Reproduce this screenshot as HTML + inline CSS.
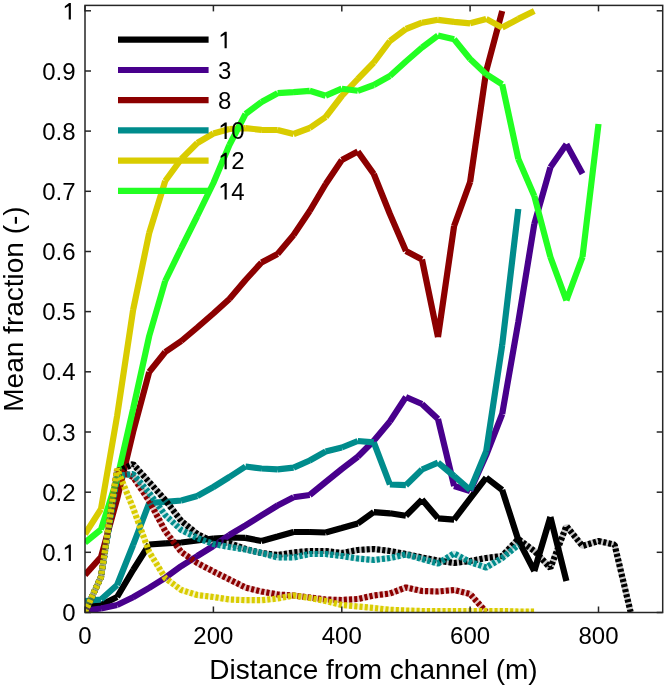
<!DOCTYPE html>
<html><head><meta charset="utf-8"><style>
html,body{margin:0;padding:0;background:#fff;}
body{width:666px;height:687px;overflow:hidden;font-family:"Liberation Sans",sans-serif;}
svg{display:block;will-change:transform;filter:blur(0.35px);}
</style></head><body>
<svg width="666" height="687" viewBox="0 0 666 687">
<defs><clipPath id="c"><rect x="85.0" y="5.4" width="577.7" height="607.1"/></clipPath></defs>
<g clip-path="url(#c)" fill="none" stroke-linejoin="bevel" stroke-linecap="butt">
<path d="M85.0 606.5L101.0 605.0M101.0 605.0L117.1 597.0M117.1 597.0L133.1 570.0M133.1 570.0L149.2 544.5M149.2 544.5L165.2 543.3M165.2 543.3L181.3 542.5M181.3 542.5L197.3 540.5M197.3 540.5L213.4 538.5M213.4 538.5L229.4 537.5M229.4 537.5L245.5 537.9M245.5 537.9L261.5 541.0M261.5 541.0L277.6 536.5M277.6 536.5L293.6 532.0M293.6 532.0L309.7 532.0M309.7 532.0L325.7 532.5M325.7 532.5L341.8 528.0M341.8 528.0L357.8 523.5M357.8 523.5L373.8 512.1M373.8 512.1L389.9 513.3M389.9 513.3L405.9 515.8M405.9 515.8L422.0 499.6M422.0 499.6L438.0 518.3M438.0 518.3L454.1 519.6M454.1 519.6L470.1 498.6M470.1 498.6L486.2 477.6M486.2 477.6L502.2 490.0M502.2 490.0L518.3 540.0M518.3 540.0L534.3 571.0M534.3 571.0L550.4 517.0M550.4 517.0L566.4 581.0" stroke="#000000" stroke-width="6.2"/>
<path d="M85.0 610.5L101.0 608.5M101.0 608.5L117.1 605.0M117.1 605.0L133.1 597.2M133.1 597.2L149.2 587.9M149.2 587.9L165.2 577.8M165.2 577.8L181.3 566.1M181.3 566.1L197.3 556.0M197.3 556.0L213.4 546.0M213.4 546.0L229.4 535.0M229.4 535.0L245.5 525.3M245.5 525.3L261.5 515.4M261.5 515.4L277.6 505.5M277.6 505.5L293.6 497.3M293.6 497.3L309.7 495.0M309.7 495.0L325.7 482.0M325.7 482.0L341.8 469.0M341.8 469.0L357.8 456.8M357.8 456.8L373.8 440.7M373.8 440.7L389.9 421.5M389.9 421.5L405.9 397.0M405.9 397.0L422.0 404.0M422.0 404.0L438.0 419.0M438.0 419.0L454.1 486.0M454.1 486.0L470.1 491.0M470.1 491.0L486.2 455.0M486.2 455.0L502.2 414.0M502.2 414.0L518.3 322.0M518.3 322.0L534.3 224.0M534.3 224.0L550.4 167.3M550.4 167.3L566.4 144.2M566.4 144.2L582.5 173.7" stroke="#48008c" stroke-width="6.2"/>
<path d="M85.0 575.0L101.0 557.0M101.0 557.0L117.1 499.0M117.1 499.0L133.1 432.0M133.1 432.0L149.2 372.0M149.2 372.0L165.2 352.0M165.2 352.0L181.3 341.0M181.3 341.0L197.3 327.5M197.3 327.5L213.4 313.5M213.4 313.5L229.4 299.0M229.4 299.0L245.5 280.0M245.5 280.0L261.5 262.5M261.5 262.5L277.6 254.0M277.6 254.0L293.6 235.0M293.6 235.0L309.7 211.0M309.7 211.0L325.7 184.0M325.7 184.0L341.8 160.0M341.8 160.0L357.8 151.6M357.8 151.6L373.8 174.0M373.8 174.0L389.9 214.0M389.9 214.0L405.9 251.0M405.9 251.0L422.0 259.5M422.0 259.5L438.0 337.0M438.0 337.0L454.1 226.0M454.1 226.0L470.1 182.0M470.1 182.0L486.2 71.0M486.2 71.0L502.2 11.0" stroke="#8c0000" stroke-width="6.2"/>
<path d="M85.0 601.0L101.0 599.5M101.0 599.5L117.1 585.0M117.1 585.0L133.1 545.0M133.1 545.0L149.2 503.0M149.2 503.0L165.2 501.8M165.2 501.8L181.3 500.5M181.3 500.5L197.3 496.0M197.3 496.0L213.4 487.0M213.4 487.0L229.4 477.0M229.4 477.0L245.5 466.5M245.5 466.5L261.5 468.5M261.5 468.5L277.6 469.4M277.6 469.4L293.6 467.6M293.6 467.6L309.7 460.5M309.7 460.5L325.7 451.5M325.7 451.5L341.8 447.5M341.8 447.5L357.8 441.0M357.8 441.0L373.8 442.3M373.8 442.3L389.9 484.5M389.9 484.5L405.9 485.2M405.9 485.2L422.0 469.5M422.0 469.5L438.0 462.6M438.0 462.6L454.1 476.0M454.1 476.0L470.1 490.0M470.1 490.0L486.2 451.3M486.2 451.3L502.2 345.0M502.2 345.0L518.3 209.0" stroke="#008c8c" stroke-width="6.2"/>
<path d="M85.0 534.0L101.0 509.0M101.0 509.0L117.1 416.0M117.1 416.0L133.1 310.0M133.1 310.0L149.2 233.0M149.2 233.0L165.2 181.0M165.2 181.0L181.3 159.0M181.3 159.0L197.3 143.0M197.3 143.0L213.4 133.5M213.4 133.5L229.4 129.0M229.4 129.0L245.5 128.2M245.5 128.2L261.5 129.8M261.5 129.8L277.6 130.0M277.6 130.0L293.6 134.0M293.6 134.0L309.7 128.0M309.7 128.0L325.7 117.0M325.7 117.0L341.8 96.0M341.8 96.0L357.8 79.0M357.8 79.0L373.8 62.5M373.8 62.5L389.9 41.0M389.9 41.0L405.9 29.0M405.9 29.0L422.0 22.7M422.0 22.7L438.0 19.8M438.0 19.8L454.1 21.8M454.1 21.8L470.1 23.3M470.1 23.3L486.2 18.9M486.2 18.9L502.2 27.6M502.2 27.6L518.3 18.9M518.3 18.9L534.3 11.0" stroke="#d9cc00" stroke-width="6.2"/>
<path d="M85.0 542.5L101.0 529.5M101.0 529.5L117.1 479.0M117.1 479.0L133.1 409.0M133.1 409.0L149.2 336.0M149.2 336.0L165.2 281.0M165.2 281.0L181.3 248.0M181.3 248.0L197.3 216.0M197.3 216.0L213.4 183.0M213.4 183.0L229.4 145.0M229.4 145.0L245.5 114.0M245.5 114.0L261.5 102.0M261.5 102.0L277.6 93.2M277.6 93.2L293.6 92.2M293.6 92.2L309.7 90.8M309.7 90.8L325.7 95.7M325.7 95.7L341.8 88.7M341.8 88.7L357.8 90.8M357.8 90.8L373.8 85.0M373.8 85.0L389.9 76.0M389.9 76.0L405.9 61.5M405.9 61.5L422.0 47.5M422.0 47.5L438.0 35.5M438.0 35.5L454.1 39.3M454.1 39.3L470.1 59.0M470.1 59.0L486.2 74.2M486.2 74.2L502.2 84.4M502.2 84.4L518.3 159.0M518.3 159.0L534.3 196.0M534.3 196.0L550.4 257.0M550.4 257.0L566.4 300.5M566.4 300.5L582.5 257.0M582.5 257.0L598.5 124.0" stroke="#22ff22" stroke-width="6.2"/>
<polyline points="85.0,612.0 101.0,577.0 117.1,472.0 133.1,464.0 149.2,482.0 165.2,500.0 181.3,521.0 197.3,534.0 213.4,542.0 229.4,543.0 245.5,549.0 261.5,553.0 277.6,555.0 293.6,552.5 309.7,551.0 325.7,551.0 341.8,553.0 357.8,550.0 373.8,549.0 389.9,551.0 405.9,554.0 422.0,557.5 438.0,560.5 454.1,563.0 470.1,561.0 486.2,558.0 502.2,556.0 518.3,539.0 534.3,551.0 550.4,568.0 566.4,526.0 582.5,546.0 598.5,541.0 614.6,544.8 630.6,612.0" stroke="#000000" stroke-opacity="0.22" stroke-width="6.2"/>
<polyline points="85.0,612.0 101.0,577.0 117.1,472.0 133.1,464.0 149.2,482.0 165.2,500.0 181.3,521.0 197.3,534.0 213.4,542.0 229.4,543.0 245.5,549.0 261.5,553.0 277.6,555.0 293.6,552.5 309.7,551.0 325.7,551.0 341.8,553.0 357.8,550.0 373.8,549.0 389.9,551.0 405.9,554.0 422.0,557.5 438.0,560.5 454.1,563.0 470.1,561.0 486.2,558.0 502.2,556.0 518.3,539.0 534.3,551.0 550.4,568.0 566.4,526.0 582.5,546.0 598.5,541.0 614.6,544.8 630.6,612.0" stroke="#000000" stroke-width="6.2" stroke-dasharray="3.1 2.1"/>
<polyline points="85.0,612.0 101.0,577.0 117.1,470.0 133.1,477.0 149.2,501.0 165.2,531.0 181.3,552.0 197.3,563.0 213.4,571.5 229.4,579.4 245.5,587.5 261.5,591.5 277.6,594.5 293.6,595.5 309.7,597.5 325.7,599.5 341.8,600.0 357.8,599.0 373.8,595.5 389.9,593.5 405.9,587.5 422.0,591.0 438.0,591.5 454.1,590.0 470.1,594.0 486.2,612.0" stroke="#8c0000" stroke-opacity="0.22" stroke-width="6.2"/>
<polyline points="85.0,612.0 101.0,577.0 117.1,470.0 133.1,477.0 149.2,501.0 165.2,531.0 181.3,552.0 197.3,563.0 213.4,571.5 229.4,579.4 245.5,587.5 261.5,591.5 277.6,594.5 293.6,595.5 309.7,597.5 325.7,599.5 341.8,600.0 357.8,599.0 373.8,595.5 389.9,593.5 405.9,587.5 422.0,591.0 438.0,591.5 454.1,590.0 470.1,594.0 486.2,612.0" stroke="#8c0000" stroke-width="6.2" stroke-dasharray="3.1 2.1"/>
<polyline points="85.0,612.0 101.0,577.0 117.1,476.0 133.1,474.0 149.2,493.0 165.2,515.0 181.3,530.0 197.3,538.0 213.4,544.0 229.4,547.0 245.5,549.5 261.5,553.0 277.6,557.5 293.6,557.5 309.7,554.0 325.7,554.0 341.8,556.0 357.8,558.5 373.8,560.0 389.9,558.0 405.9,554.5 422.0,559.0 438.0,563.5 454.1,553.4 470.1,562.0 486.2,567.5 502.2,558.0 518.3,545.0" stroke="#008c8c" stroke-opacity="0.22" stroke-width="6.2"/>
<polyline points="85.0,612.0 101.0,577.0 117.1,476.0 133.1,474.0 149.2,493.0 165.2,515.0 181.3,530.0 197.3,538.0 213.4,544.0 229.4,547.0 245.5,549.5 261.5,553.0 277.6,557.5 293.6,557.5 309.7,554.0 325.7,554.0 341.8,556.0 357.8,558.5 373.8,560.0 389.9,558.0 405.9,554.5 422.0,559.0 438.0,563.5 454.1,553.4 470.1,562.0 486.2,567.5 502.2,558.0 518.3,545.0" stroke="#008c8c" stroke-width="6.2" stroke-dasharray="3.1 2.1"/>
<polyline points="85.0,612.0 101.0,577.0 117.1,469.0 133.1,508.0 149.2,552.0 165.2,578.0 181.3,590.0 197.3,595.0 213.4,597.0 229.4,599.5 245.5,600.2 261.5,600.2 277.6,598.5 293.6,595.5 309.7,598.0 325.7,601.0 341.8,605.0 357.8,606.5 373.8,608.0 389.9,609.8 405.9,610.5 422.0,611.0 438.0,611.0 454.1,611.0 470.1,611.0 486.2,611.0 502.2,611.0 518.3,611.5 534.3,611.5" stroke="#d9cc00" stroke-opacity="0.22" stroke-width="6.2"/>
<polyline points="85.0,612.0 101.0,577.0 117.1,469.0 133.1,508.0 149.2,552.0 165.2,578.0 181.3,590.0 197.3,595.0 213.4,597.0 229.4,599.5 245.5,600.2 261.5,600.2 277.6,598.5 293.6,595.5 309.7,598.0 325.7,601.0 341.8,605.0 357.8,606.5 373.8,608.0 389.9,609.8 405.9,610.5 422.0,611.0 438.0,611.0 454.1,611.0 470.1,611.0 486.2,611.0 502.2,611.0 518.3,611.5 534.3,611.5" stroke="#d9cc00" stroke-width="6.2" stroke-dasharray="3.1 2.1"/>
</g>
<g stroke="#262626" stroke-width="1.5" fill="none">
<rect x="85.0" y="5.4" width="577.7" height="607.1"/>
<line x1="85.0" y1="612.5" x2="91.0" y2="612.5"/>
<line x1="662.7" y1="612.5" x2="656.7" y2="612.5"/>
<line x1="85.0" y1="552.3" x2="91.0" y2="552.3"/>
<line x1="662.7" y1="552.3" x2="656.7" y2="552.3"/>
<line x1="85.0" y1="492.2" x2="91.0" y2="492.2"/>
<line x1="662.7" y1="492.2" x2="656.7" y2="492.2"/>
<line x1="85.0" y1="432.0" x2="91.0" y2="432.0"/>
<line x1="662.7" y1="432.0" x2="656.7" y2="432.0"/>
<line x1="85.0" y1="371.8" x2="91.0" y2="371.8"/>
<line x1="662.7" y1="371.8" x2="656.7" y2="371.8"/>
<line x1="85.0" y1="311.6" x2="91.0" y2="311.6"/>
<line x1="662.7" y1="311.6" x2="656.7" y2="311.6"/>
<line x1="85.0" y1="251.5" x2="91.0" y2="251.5"/>
<line x1="662.7" y1="251.5" x2="656.7" y2="251.5"/>
<line x1="85.0" y1="191.3" x2="91.0" y2="191.3"/>
<line x1="662.7" y1="191.3" x2="656.7" y2="191.3"/>
<line x1="85.0" y1="131.1" x2="91.0" y2="131.1"/>
<line x1="662.7" y1="131.1" x2="656.7" y2="131.1"/>
<line x1="85.0" y1="71.0" x2="91.0" y2="71.0"/>
<line x1="662.7" y1="71.0" x2="656.7" y2="71.0"/>
<line x1="85.0" y1="10.8" x2="91.0" y2="10.8"/>
<line x1="662.7" y1="10.8" x2="656.7" y2="10.8"/>
<line x1="85.0" y1="612.5" x2="85.0" y2="606.5"/>
<line x1="85.0" y1="5.4" x2="85.0" y2="11.4"/>
<line x1="213.4" y1="612.5" x2="213.4" y2="606.5"/>
<line x1="213.4" y1="5.4" x2="213.4" y2="11.4"/>
<line x1="341.8" y1="612.5" x2="341.8" y2="606.5"/>
<line x1="341.8" y1="5.4" x2="341.8" y2="11.4"/>
<line x1="470.1" y1="612.5" x2="470.1" y2="606.5"/>
<line x1="470.1" y1="5.4" x2="470.1" y2="11.4"/>
<line x1="598.5" y1="612.5" x2="598.5" y2="606.5"/>
<line x1="598.5" y1="5.4" x2="598.5" y2="11.4"/>
</g>
<g font-family="Liberation Sans, sans-serif" font-size="24" fill="#000">
<text x="62.15" y="621.10">0</text>
<text x="42.14" y="560.93">0.</text><path transform="translate(62.15,560.93) scale(0.01172,-0.01172)" d="M745,0 L560,0 L560,1150 L228,955 L228,1125 L590,1409 L745,1409 Z"/>
<text x="42.14" y="500.76">0.2</text>
<text x="42.14" y="440.59">0.3</text>
<text x="42.14" y="380.42">0.4</text>
<text x="42.14" y="320.25">0.5</text>
<text x="42.14" y="260.08">0.6</text>
<text x="42.14" y="199.91">0.7</text>
<text x="42.14" y="139.74">0.8</text>
<text x="42.14" y="79.57">0.9</text>
<path transform="translate(62.15,19.40) scale(0.01172,-0.01172)" d="M745,0 L560,0 L560,1150 L228,955 L228,1125 L590,1409 L745,1409 Z"/>
<text x="78.33" y="643.50">0</text>
<text x="193.36" y="643.50">200</text>
<text x="321.73" y="643.50">400</text>
<text x="450.11" y="643.50">600</text>
<text x="578.49" y="643.50">800</text>
</g>
<text x="373.5" y="679" font-family="Liberation Sans, sans-serif" font-size="28" text-anchor="middle">Distance from channel (m)</text>
<text transform="translate(22.5,309) rotate(-90)" font-family="Liberation Sans, sans-serif" font-size="28" text-anchor="middle">Mean fraction (-)</text>
<g font-family="Liberation Sans, sans-serif" font-size="24" fill="#000">
<line x1="118" y1="39.7" x2="208.6" y2="39.7" stroke="#000000" stroke-width="6.2"/>
<path transform="translate(218.00,48.30) scale(0.01172,-0.01172)" d="M745,0 L560,0 L560,1150 L228,955 L228,1125 L590,1409 L745,1409 Z"/>
<line x1="118" y1="70.0" x2="208.6" y2="70.0" stroke="#48008c" stroke-width="6.2"/>
<text x="218.00" y="78.55">3</text>
<line x1="118" y1="100.2" x2="208.6" y2="100.2" stroke="#8c0000" stroke-width="6.2"/>
<text x="218.00" y="108.80">8</text>
<line x1="118" y1="130.4" x2="208.6" y2="130.4" stroke="#008c8c" stroke-width="6.2"/>
<path transform="translate(218.00,139.05) scale(0.01172,-0.01172)" d="M745,0 L560,0 L560,1150 L228,955 L228,1125 L590,1409 L745,1409 Z"/><text x="231.35" y="139.05">0</text>
<line x1="118" y1="160.7" x2="208.6" y2="160.7" stroke="#d9cc00" stroke-width="6.2"/>
<path transform="translate(218.00,169.30) scale(0.01172,-0.01172)" d="M745,0 L560,0 L560,1150 L228,955 L228,1125 L590,1409 L745,1409 Z"/><text x="231.35" y="169.30">2</text>
<line x1="118" y1="190.9" x2="208.6" y2="190.9" stroke="#22ff22" stroke-width="6.2"/>
<path transform="translate(218.00,199.55) scale(0.01172,-0.01172)" d="M745,0 L560,0 L560,1150 L228,955 L228,1125 L590,1409 L745,1409 Z"/><text x="231.35" y="199.55">4</text>
</g>
</svg>
</body></html>
